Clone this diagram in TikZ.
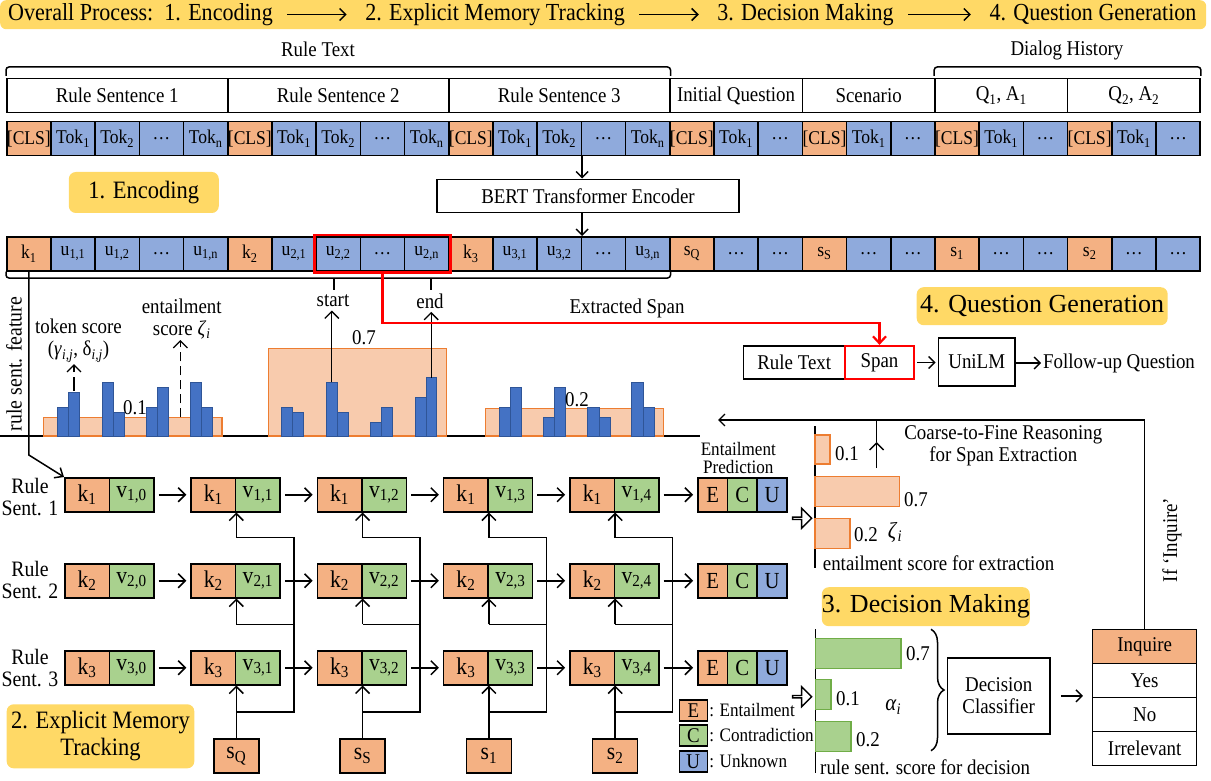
\documentclass[tikz,border=0pt]{standalone}
\usepackage{fontspec}
\setmainfont{Liberation Serif}[FakeStretch=0.9]
\newfontfamily\titlefont{Liberation Serif}
\usetikzlibrary{arrows.meta,shapes.arrows,decorations.pathreplacing,fit,calc}
\definecolor{cy}{HTML}{FFD966}
\definecolor{co}{HTML}{F4B183}
\definecolor{cb}{HTML}{8FAADC}
\definecolor{cg}{HTML}{A9D18E}
\definecolor{cbar}{HTML}{4472C4}
\definecolor{cbarb}{HTML}{2F5597}
\definecolor{clo}{HTML}{F8CBAD}
\definecolor{cob}{HTML}{ED7D31}
\definecolor{cgb}{HTML}{70AD47}
\newcommand\sub[1]{\textsubscript{#1}}
\newcommand\fsz[1]{\fontsize{#1}{#1}\selectfont}
\tikzset{
  every node/.style={font=\fsz{21}},
  cell/.style={draw, line width=1.5pt, minimum width=44.2pt, minimum height=34pt, inner sep=0pt, anchor=north west, font=\fsz{19.5}},
  seg/.style={draw, line width=1.5pt, minimum height=34pt, inner sep=0pt, anchor=north west, font=\fsz{21}},
  mem/.style={draw, line width=1.5pt, minimum width=44.5pt, minimum height=34pt, inner sep=0pt, anchor=north west, font=\fsz{24}},
  ecu/.style={draw, line width=1.5pt, minimum width=29.7pt, minimum height=34pt, inner sep=0pt, anchor=north west, font=\fsz{23}},
  sbox/.style={draw, line width=1.5pt, fill=co, minimum width=45pt, minimum height=34pt, inner sep=0pt, font=\fsz{24}},
  lgbox/.style={draw, line width=1.5pt, minimum width=28pt, minimum height=21pt, inner sep=0pt, font=\fsz{21}},
  ybox/.style={fill=cy, rounded corners=7pt, inner sep=0pt, font=\fsz{25}},
  plainbox/.style={draw, line width=1.5pt, inner sep=0pt},
  harr/.style={line width=1.5pt, -{Straight Barb[length=7pt,width=14pt]}, shorten <=4pt, shorten >=4pt},
  uarr/.style={line width=1.5pt, -{Straight Barb[length=7pt,width=14pt]}},
  arr/.style={line width=1.4pt, -{Straight Barb[length=6pt,width=12pt]}},
  barr/.style={line width=1.5pt, -{Straight Barb[length=6pt,width=12pt]}, shorten <=11pt, shorten >=15pt},
  lorect/.style={fill=clo, draw=cob, line width=1.3pt},
  bbar/.style={fill=cbar, draw=cbarb, line width=0.8pt},
  gbar/.style={fill=cg, draw=cgb, line width=1.3pt},
  hollow/.style={single arrow, draw, line width=1.4pt, fill=white, minimum width=20pt, minimum height=19pt, single arrow head extend=5pt, inner sep=0pt},
}
\begin{document}
\begin{tikzpicture}[x=1pt,y=-1pt]
\useasboundingbox (0,0) rectangle (1211,781);
% ---------- banner
\node[fill=cy, rounded corners=6pt, minimum width=1206pt, minimum height=29pt, anchor=north west, inner sep=0pt] (banner) at (0,0) {};
\node[font=\fsz{24.5}] (b1) at (140.5,14.5) {Overall Process:\ \ 1. Encoding};
\node[font=\fsz{24.5}] (b2) at (495,14.5) {2. Explicit Memory Tracking};
\node[font=\fsz{24.5}] (b3) at (805.5,14.5) {3. Decision Making};
\node[font=\fsz{24.5}] (b4) at (1093,14.5) {4. Question Generation};
\draw[barr] (b1.east) -- (b2.west);
\draw[barr] (b2.east) -- (b3.west);
\draw[barr] (b3.east) -- (b4.west);
% ---------- input segments
\node (rtlab) at (318,49) {Rule Text};
\node (dhlab) at (1067,50) {Dialog History};
\node[seg, minimum width=221pt] (rs1) at (6,78) {Rule Sentence 1};
\node[seg, minimum width=221pt] (rs2) at (227,78) {Rule Sentence 2};
\node[seg, minimum width=221pt] (rs3) at (448,78) {Rule Sentence 3};
\node[seg, minimum width=132.6pt] (iq) at (669,78) {Initial Question};
\node[seg, minimum width=132.6pt] (sc) at (801.6,78) {Scenario};
\node[seg, minimum width=132.6pt] (qa1) at (934.2,78) {Q\sub{1}, A\sub{1}};
\node[seg, minimum width=132.6pt] (qa2) at (1066.8,78) {Q\sub{2}, A\sub{2}};
\draw[line width=1.5pt, rounded corners=3pt] (rs1.north west |- 0,76) -- (rs1.north west |- 0,67) -- (rs3.north east |- 0,67) -- (rs3.north east |- 0,76);
\draw[line width=1.5pt, rounded corners=3pt] (qa1.north west |- 0,76) -- (qa1.north west |- 0,67) -- (qa2.north east |- 0,67) -- (qa2.north east |- 0,76);
% ---------- token row
\foreach \i/\l/\ff in {0/{[CLS]}/co,1/{Tok\sub{1}}/cb,2/{Tok\sub{2}}/cb,3/{\ldots}/cb,4/{Tok\sub{n}}/cb,
  5/{[CLS]}/co,6/{Tok\sub{1}}/cb,7/{Tok\sub{2}}/cb,8/{\ldots}/cb,9/{Tok\sub{n}}/cb,
  10/{[CLS]}/co,11/{Tok\sub{1}}/cb,12/{Tok\sub{2}}/cb,13/{\ldots}/cb,14/{Tok\sub{n}}/cb,
  15/{[CLS]}/co,16/{Tok\sub{1}}/cb,17/{\ldots}/cb,
  18/{[CLS]}/co,19/{Tok\sub{1}}/cb,20/{\ldots}/cb,
  21/{[CLS]}/co,22/{Tok\sub{1}}/cb,23/{\ldots}/cb,
  24/{[CLS]}/co,25/{Tok\sub{1}}/cb,26/{\ldots}/cb}
  {\node[cell, fill=\ff] (t\i) at ({6+\i*44.2},121) {\l};}
% ---------- encoder
\node[ybox, minimum width=150pt, minimum height=41pt] (encl) at (143.8,192.5) {1. Encoding};
\node[plainbox, minimum width=302pt, minimum height=33pt] (bert) at (588,195.8) {BERT Transformer Encoder};
\draw[arr] (t12.south east) -- (t12.south east |- bert.north);
% ---------- encoded row
\foreach \i/\l/\ff in {0/{k\sub{1}}/co,1/{u\sub{1,1}}/cb,2/{u\sub{1,2}}/cb,3/{\ldots}/cb,4/{u\sub{1,n}}/cb,
  5/{k\sub{2}}/co,6/{u\sub{2,1}}/cb,7/{u\sub{2,2}}/cb,8/{\ldots}/cb,9/{u\sub{2,n}}/cb,
  10/{k\sub{3}}/co,11/{u\sub{3,1}}/cb,12/{u\sub{3,2}}/cb,13/{\ldots}/cb,14/{u\sub{3,n}}/cb,
  15/{s\sub{Q}}/co,16/{\ldots}/cb,17/{\ldots}/cb,
  18/{s\sub{S}}/co,19/{\ldots}/cb,20/{\ldots}/cb,
  21/{s\sub{1}}/co,22/{\ldots}/cb,23/{\ldots}/cb,
  24/{s\sub{2}}/co,25/{\ldots}/cb,26/{\ldots}/cb}
  {\node[cell, fill=\ff] (e\i) at ({6+\i*44.2},236) {\l};}
\draw[arr] (bert.south -| e12.north east) -- (e12.north east);
\node[draw=red, line width=2.2pt, fit=(e7)(e9), inner sep=1pt] (sel) {};
\draw[line width=1.5pt, rounded corners=3pt] (e0.south west) -- (e0.south west |- 0,278) -- (e14.south east |- 0,278) -- (e14.south east);
\draw[line width=1.5pt] (334,278) -- (334,290);
\draw[line width=1.5pt] (431,278) -- (431,290);
\node (lstart) at (333,301) {start};
\node (lend) at (430,301) {end};
% ---------- bar chart
\draw[line width=1.5pt] (0,436) -- (700,436);
\node[rotate=90, font=\fsz{22}] (rsf) at (14,364) {rule sent. feature};
\draw[lorect] (43.5,417.3) rectangle (222,436);
\draw[lorect] (268.3,348.3) rectangle (446.5,436);
\draw[lorect] (485.5,408.3) rectangle (663.2,436);
\foreach \a/\b/\t in {57.4/68.2/407.3,68.2/79.4/392.3,102.3/113.1/382.3,113.1/124.3/412.3,146.7/157/407.3,157/168.3/387.3,190.7/201/382.3,201/212.2/407.3,
  281.3/292.6/407.3,292.6/303.8/412.3,326.2/337.4/382.3,337.4/348.6/412.3,370.2/381.4/422.3,381.4/392.6/407.3,415/426.3/397.3,426.3/436.1/377.7,
  499/510.2/407.3,510.2/521.4/387.3,543/554.1/417.3,554.1/565.4/387.3,587.8/599/407.3,599/610.2/417.3,631.8/643/382.3,643/654.2/407.3}
  {\draw[bbar] (\a,436) rectangle (\b,\t);}
\node (n01) at (135,408) {0.1};
\node (n07) at (364,338) {0.7};
\node (n02) at (577,400) {0.2};
\node (ts1) at (78.5,326.7) {token score};
\node (ts2) at (78.5,351.7) {(\textit{γ}\sub{\textit{i,j}}, δ\sub{\textit{i,j}})};
\node (es1) at (181.7,306.7) {entailment};
\node (es2) at (181.7,330) {score \textit{ζ}\sub{\textit{i}}};
\coordinate (tsb) at (74,391);
\coordinate (esb) at (180.4,417.3);
\coordinate (sb) at (331.8,382.3);
\coordinate (eb) at (431.2,377.7);
\draw[uarr, line width=1.3pt, dash pattern=on 14pt off 5pt] (tsb) -- (tsb |- 0,364);
\draw[uarr, line width=1.3pt, dash pattern=on 9pt off 5pt] (esb) -- (esb |- 0,340);
\draw[uarr, line width=1.3pt] (sb) -- (sb |- lstart.south);
\draw[uarr, line width=1.3pt] (eb) -- (eb |- lend.south);
% ---------- question generation
\node[ybox, font=\titlefont\fsz{26}, minimum width=251pt, minimum height=38pt] (qgl) at (1042.2,306.2) {4. Question Generation};
\node[plainbox, minimum width=101.7pt, minimum height=33pt] (rtb) at (794.2,362.5) {Rule Text};
\node[draw=red, line width=2.2pt, minimum width=69pt, minimum height=33pt, inner sep=0pt] (spanb) at (879.5,362.5) {Span};
\node[plainbox, minimum width=76.7pt, minimum height=48.3pt] (unilm) at (976.7,361.9) {UniLM};
\node[anchor=west, inner sep=0pt] (fq) at (1043,363) {Follow-up Question};
\draw[arr, shorten <=2pt, shorten >=2pt] (spanb.east) -- (spanb.east -| unilm.west);
\draw[arr, shorten >=2pt] (unilm.east |- fq.west) -- (fq.west);
\coordinate (redc) at (700,323);
\draw[red, line width=2.2pt, -{Straight Barb[length=7pt,width=13pt]}] (sel.south) |- (redc) -| (spanb.north);
\node (exs) at (627,308) {Extracted Span};
% ---------- memory tracking
\foreach \rr/\yy in {1/477,2/563,3/650}{
  \foreach \cc in {0,...,4}{
    \node[mem, fill=co] (k\rr\cc) at ({64+\cc*126.3},\yy) {k\sub{\rr}};
    \node[mem, fill=cg] (v\rr\cc) at ({108.5+\cc*126.3},\yy) {v\sub{\rr,\cc}};
  }
  \node[ecu, fill=co] (E\rr) at (697,\yy) {E};
  \node[ecu, fill=cg] (C\rr) at (726.7,\yy) {C};
  \node[ecu, fill=cb] (U\rr) at (756.4,\yy) {U};
  \draw[harr] (v\rr4.east) -- (E\rr.west);
  \foreach \cc in {0,...,3}{
    \pgfmathtruncatemacro\dd{\cc+1}
    \draw[harr] (v\rr\cc.east) -- (k\rr\dd.west);
  }
}
\draw[line width=1.5pt, -{Straight Barb[length=7pt,width=12pt]}] (e0.south) -- (e0.south |- 0,455) -- (k10.north west);
\node[align=center, font=\fontsize{22}{22}\selectfont] (rl1) at (30,497.5) {Rule\\Sent. 1};
\node[align=center, font=\fontsize{22}{22}\selectfont] (rl2) at (30,580) {Rule\\Sent. 2};
\node[align=center, font=\fontsize{22}{22}\selectfont] (rl3) at (30,668.3) {Rule\\Sent. 3};
\foreach \cc/\l in {1/{s\sub{Q}},2/{s\sub{S}},3/{s\sub{1}},4/{s\sub{2}}}{
  \node[sbox] (s\cc) at (k3\cc.south east |- 0,756) {\l};
  \coordinate (bx\cc) at ($(v3\cc.east)+(13,0)$);
  \draw[uarr] (s\cc.north) -- (k3\cc.south east);
  \draw[line width=1.5pt] (s\cc.north |- 0,712) -- (bx\cc |- 0,712) -- (bx\cc |- 0,537.7) -- (k1\cc.south east |- 0,537.7);
  \draw[uarr] (k1\cc.south east |- 0,537.7) -- (k1\cc.south east);
  \draw[line width=1.5pt] (bx\cc |- 0,624.3) -- (k2\cc.south east |- 0,624.3);
  \draw[uarr] (k2\cc.south east |- 0,624.3) -- (k2\cc.south east);
}
\node[font=\fsz{19}] (ep1) at (738.3,449.3) {Entailment};
\node[font=\fsz{19}] (ep2) at (738.3,466.7) {Prediction};
\node[ybox, align=center, font=\fontsize{25}{27}\selectfont, minimum width=187.6pt, minimum height=64pt] (emt) at (100.5,736.3) {2. Explicit Memory\\Tracking};
% legend
\node[lgbox, fill=co] (lE) at (693.3,710.3) {E};
\node[lgbox, fill=cg] (lC) at (693.3,735.5) {C};
\node[lgbox, fill=cb] (lU) at (693.3,761.5) {U};
\node[anchor=west, font=\fsz{19}, inner sep=1pt] (tE) at (lE.east) {: Entailment};
\node[anchor=west, font=\fsz{19}, inner sep=1pt] (tC) at (lC.east) {: Contradiction};
\node[anchor=west, font=\fsz{19}, inner sep=1pt] (tU) at (lU.east) {: Unknown};
% ---------- entailment scores
\node[hollow] (h1) at (801.5,518.3) {};
\draw[line width=1.5pt] (815,426) -- (815,568);
\draw[lorect] (815,435) rectangle (830,464);
\draw[lorect] (815,476.7) rectangle (899.3,506.7);
\draw[lorect] (815,518.3) rectangle (850,548.3);
\node (z1) at (847,453.3) {0.1};
\node (z7) at (916,499.3) {0.7};
\node (z2) at (866,535) {0.2};
\node[font=\fsz{23}] (zeta) at (895,532) {\textit{ζ}\sub{\textit{i}}};
\node[anchor=west, inner sep=0pt] (esx) at (822.7,563.3) {entailment score for extraction};
% ---------- feedback
\coordinate (fbend) at (718,420);
\coordinate (ca1) at (876.7,468);
\coordinate (ca2) at (876.7,442);
\node (cf1) at (1003.3,435) {Coarse-to-Fine Reasoning};
\node (cf2) at (1003.3,456.7) {for Span Extraction};
% ---------- decision
\node[ybox, font=\titlefont\fsz{26}, minimum width=208pt, minimum height=39pt] (dml) at (925.8,606.7) {3. Decision Making};
\node[hollow] (h2) at (801.5,696.7) {};
\draw[line width=1.5pt] (815.7,629.3) -- (815.7,773.3);
\draw[gbar] (815.7,638.3) rectangle (901,668.3);
\draw[gbar] (815.7,679.3) rectangle (831,709.3);
\draw[gbar] (815.7,721.7) rectangle (851,751.7);
\node (a7) at (918,654) {0.7};
\node (a1) at (848,698.3) {0.1};
\node (a2) at (868,739.3) {0.2};
\node[font=\fsz{23}] (alpha) at (893.3,707) {\textit{α}\sub{\textit{i}}};
\node[anchor=west, inner sep=0pt] (rsd) at (820,767.7) {rule sent. score for decision};
\draw[line width=1.5pt, decorate, decoration={brace, amplitude=13pt}] (931,629.3) -- (931,750.7);
\node[plainbox, align=center, font=\fontsize{21}{22}\selectfont, minimum width=102.7pt, minimum height=76.3pt] (dc) at (998.7,695.9) {Decision\\Classifier};
\node[plainbox, fill=co, minimum width=104pt, minimum height=34pt] (inq) at (1144.7,646.3) {Inquire};
\node[plainbox, minimum width=104pt, minimum height=34pt] (yes) at (1144.7,680.3) {Yes};
\node[plainbox, minimum width=104pt, minimum height=34pt] (no) at (1144.7,714.3) {No};
\node[plainbox, minimum width=104pt, minimum height=34pt] (irr) at (1144.7,748.3) {Irrelevant};
\draw[arr, shorten <=10pt, shorten >=9pt] (dc.east) -- (dc.east -| yes.west);
\draw[arr] (inq.north) |- (fbend);
\draw[uarr, line width=1.4pt] (ca1) -- (ca2);
\draw[line width=1.4pt] (ca2) -- (ca2 |- fbend);
\node[rotate=90] (ifq) at (1172,540) {If ‘Inquire’};
\end{tikzpicture}
\end{document}
